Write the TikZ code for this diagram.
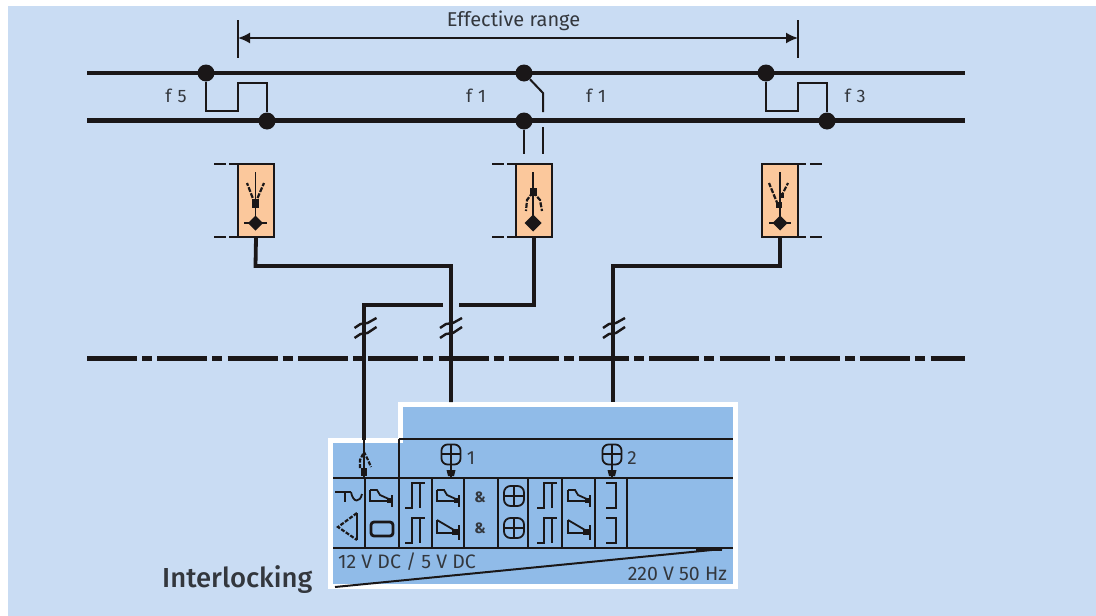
\documentclass[tikz,border=0pt]{standalone}
\usepackage{fontspec}
\setmainfont{Fira Sans}
\newfontfamily\titlefont{Fira Sans Medium}
\usetikzlibrary{arrows.meta}
\definecolor{panelbg}{HTML}{C9DCF3}
\definecolor{platebg}{HTML}{90BBE8}
\definecolor{boxbg}{HTML}{FBC89C}
\definecolor{inkdark}{HTML}{1A1718}
\definecolor{inktext}{HTML}{33373D}
\tikzset{
  railline/.style={line width=4.6pt,draw=inkdark},
  powerwire/.style={line width=3.8pt,draw=inkdark},
  thinwire/.style={line width=2pt,draw=inkdark},
  symline/.style={line width=1.8pt,draw=inkdark},
  jdot/.style={circle,fill=inkdark,inner sep=0pt,minimum size=17pt},
  relaybox/.style={rectangle,draw=inkdark,line width=2pt,fill=boxbg,inner sep=0pt,minimum width=36pt,minimum height=73pt},
  label/.style={text=inktext,inner sep=0pt,font=\fontsize{18}{18}\selectfont},
  relaytop/.pic={
    \draw [symline] (0,0) -- (7,0) -- (10,5) -- (21,10);
    \draw [symline] (0,0) -- (0,11) -- (22,11);
    \draw [symline] (22,5) -- (22,17);
    \fill [inkdark] (17,8) rectangle (22,12.5);
  },
  relaybot/.pic={
    \draw [symline] (0,0) -- (17,10);
    \draw [symline] (0,0) -- (0,13) -- (22,13);
    \draw [symline] (22,5) -- (22,20);
    \fill [inkdark] (15,9) rectangle (22,14.5);
  },
  pulsesym/.pic={
    \draw [symline] (0,25) -- (7,25) -- (7,0) -- (20,0);
    \draw [symline] (15,0) -- (15,25);
  },
  bracketsym/.pic={
    \draw [symline] (0,0) -- (10,0) -- (10,25) -- (0,25);
  },
  crosssym/.pic={
    \draw [symline,rounded corners=6.5pt] (-10,-10) rectangle (10,10);
    \draw [symline] (-10,0) -- (10,0);
    \draw [symline] (0,-10) -- (0,10);
  },
  breaksym/.pic={
    \draw [thinwire,line width=2.4pt] (-9,11) -- (-3,7) -- (4,6) -- (13,0);
    \draw [thinwire,line width=2.4pt] (-9,1) -- (-3,-3) -- (4,-4) -- (13,-9);
  },
}
\begin{document}
\begin{tikzpicture}[x=1pt,y=-1pt]
\useasboundingbox (0,0) rectangle (1096,616);
\fill [white] (0,0) rectangle (1096,616);
\fill [panelbg] (8,6) rectangle (1096,616);

% range above the track
\coordinate (rangea) at (238,38);
\coordinate (rangeb) at (798,38);
\draw [thinwire] (238,20) -- (238,58);
\draw [thinwire] (798,20) -- (798,58);
\draw [line width=1.8pt,draw=inkdark,{Latex[length=12pt,width=11pt]}-{Latex[length=12pt,width=11pt]}] (rangea) -- (rangeb);
\node [label,font=\fontsize{20}{20}\selectfont] (rangetext) at (513.5,21) {Effective range};

% rails
\coordinate (raila) at (87,73);
\coordinate (railb) at (965,73);
\coordinate (railc) at (87,120.5);
\coordinate (raild) at (965,120.5);
\draw [railline] (raila) -- (railb);
\draw [railline] (railc) -- (raild);

\node [jdot] (f5up) at (206,73) {};
\node [jdot] (f5low) at (267,121) {};
\node [jdot] (f1up) at (524,73) {};
\node [jdot] (f1low) at (524,121) {};
\node [jdot] (f3up) at (766,73) {};
\node [jdot] (f3low) at (827,121) {};

\draw [thinwire] (f5up) -- (206,111) -- (238,111) -- (238,83) -- (267,83) -- (f5low);
\draw [thinwire] (f3up) -- (766,111) -- (798,111) -- (798,83) -- (827,83) -- (f3low);
\draw [thinwire] (f1up) -- (543,93) -- (543,112);

\node [label] (f5text) at (176,95.5) {f\,\,5};
\node [label] (f1texta) at (476,95.5) {f\,\,1};
\node [label] (f1textb) at (596,95.5) {f\,\,1};
\node [label] (f3text) at (855,95.5) {f\,\,3};

% trackside units
\node [relaybox] (unita) at (256,200.5) {};
\node [relaybox] (unitb) at (534,200.5) {};
\node [relaybox] (unitc) at (780,200.5) {};

\draw [line width=2.8pt,draw=inkdark] (f1low) -- (524,154);
\draw [thinwire] (543,127) -- (543,154);

\foreach \yline in {164,237} {
  \draw [thinwire] (214,\yline) -- (226,\yline);
  \draw [thinwire] (229,\yline) -- (238,\yline);
  \draw [thinwire] (492,\yline) -- (504,\yline);
  \draw [thinwire] (507,\yline) -- (516,\yline);
  \draw [thinwire] (798,\yline) -- (806,\yline);
  \draw [thinwire] (810,\yline) -- (822,\yline);
}

% unit symbols
\draw [symline] (255.5,172) -- (255.5,224);
\draw [symline,dashed,dash pattern=on 5pt off 1.5pt,line width=2.2pt] (255,204) -- (247,183);
\draw [symline,dashed,dash pattern=on 5pt off 1.5pt,line width=2.2pt] (255,204) -- (264,183);
\fill [inkdark] (252,199) rectangle (258.5,208);
\draw [symline] (244,223) -- (267,223);
\fill [inkdark] (255.5,215.5) -- (263,223) -- (255.5,230.5) -- (248,223) -- cycle;

\draw [symline] (533,172) -- (533,224);
\draw [symline,dashed,dash pattern=on 5pt off 1.5pt,line width=2.2pt] (533,192) -- (527,200) -- (526,211);
\draw [symline,dashed,dash pattern=on 5pt off 1.5pt,line width=2.2pt] (533,192) -- (540,200) -- (542,211);
\fill [inkdark] (529.5,188) rectangle (537,196);
\fill [inkdark] (533,214.5) -- (541.5,223) -- (533,231.5) -- (524.5,223) -- cycle;

\draw [symline] (780,172) -- (780,224);
\draw [symline,dashed,dash pattern=on 5pt off 1.5pt,line width=2.2pt] (778,205) -- (769,183);
\draw [symline,dashed,dash pattern=on 5pt off 1.5pt,line width=2.2pt] (781,197) -- (788,183);
\fill [inkdark] (776,202) rectangle (781.5,208);
\fill [inkdark] (779,193) rectangle (783.5,198);
\draw [symline] (769,223) -- (791,223);
\fill [inkdark] (780,215.5) -- (787.5,223) -- (780,230.5) -- (772.5,223) -- cycle;

% dash-dot boundary
\coordinate (bounda) at (87,358.5);
\coordinate (boundb) at (965,358.5);
\draw [railline,dash pattern=on 50pt off 5pt on 10pt off 5.3pt] (bounda) -- (boundb);

% interlocking plate
\draw [line width=5pt,draw=white,fill=platebg,miter limit=4]
  (330.5,586) -- (330.5,440) -- (400,440) -- (400,404.5) -- (735.5,404.5) -- (735.5,586) -- cycle;
\coordinate (platea) at (451,402);
\coordinate (plateb) at (613,402);
\coordinate (platec) at (364,478);

% cables
\draw [powerwire] (unita.south) -- (255.5,266) -- (451,266) -- (platea);
\draw [powerwire] (unitc.south) -- (780,266) -- (613,266) -- (plateb);
\draw [powerwire] (unitb.south) -- (534,305) -- (459,305);
\draw [powerwire] (443,305) -- (364,305) -- (364,440);
\draw [line width=2.4pt,draw=inkdark] (364,440) -- (platec);
\path (363.5,327) pic {breaksym};
\path (449,327) pic {breaksym};
\path (612,327) pic {breaksym};

% plate rules
\draw [line width=2.2pt,draw=inkdark] (399,439) -- (733,439);
\draw [line width=2.2pt,draw=inkdark] (399,439) -- (399,478);
\draw [line width=2.2pt,draw=inkdark] (333,478) -- (733,478);
\draw [line width=2.2pt,draw=inkdark] (333,548) -- (733,548);
\foreach \xcell in {365,399,431.7,464.3,497.7,528.3,561.7,595,627.3} {
  \draw [line width=2pt,draw=inkdark] (\xcell,478) -- (\xcell,548);
}
\draw [line width=2pt,draw=inkdark] (335,587) -- (722,549);
\fill [inkdark] (696,547.5) rectangle (722,551);

% plate feed symbols
\draw [symline,dashed,dash pattern=on 4pt off 1.5pt,line width=2.2pt] (360,468) -- (360,460) -- (364,452) -- (368,460) -- (371,467);
\fill [inkdark] (361,468) rectangle (367,476);
\foreach \xfeed/\tfeed in {451/1,612/2} {
  \draw [symline,rounded corners=6pt] (\xfeed-9.5,444.5) rectangle (\xfeed+9.5,464.5);
  \draw [symline] (\xfeed-9.5,454) -- (\xfeed+9.5,454);
  \draw [symline] (\xfeed,444.5) -- (\xfeed,478);
  \fill [inkdark] (\xfeed-4.5,470) -- (\xfeed+4.5,470) -- (\xfeed+3,476) -- (\xfeed-3,476) -- cycle;
  \node [label,font=\fontsize{19}{19}\selectfont] (feedtext\tfeed) at (\xfeed+20,458) {\tfeed};
}

% first cell
\draw [symline] (335,492) -- (351,492);
\draw [symline] (345,492) -- (345,502);
\draw [symline] (351,492) .. controls (353,503) and (360,503) .. (362,494);
\draw [symline,dashed,dash pattern=on 4pt off 1.5pt,line width=2.2pt] (357,513) -- (338,527) -- (357,540);
\draw [symline] (357,513) -- (357,540);

% second cell
\path (370,490) pic {relaytop};
\draw [line width=2.8pt,draw=inkdark,rounded corners=3pt] (371,522) rectangle (393,536);

% repeated cells
\foreach \xpulse in {405,537} {
  \path (\xpulse,483) pic {pulsesym};
  \path (\xpulse,518) pic {pulsesym};
}
\foreach \xrelay in {437,568} {
  \path (\xrelay,490) pic {relaytop};
  \path (\xrelay,520) pic {relaybot};
}
\path (606,483) pic {bracketsym};
\path (606,518) pic {bracketsym};
\path (514,496) pic {crosssym};
\path (514,528) pic {crosssym};
\node [label,font=\fontsize{15}{15}\selectfont\bfseries] (andtop) at (480,497) {\&};
\node [label,font=\fontsize{15}{15}\selectfont\bfseries] (andbot) at (480,528) {\&};

% plate and title texts
\node [label,anchor=west,font=\fontsize{19.5}{19.5}\selectfont] (lowvolt) at (338,562) {12 V DC / 5 V DC};
\node [label,anchor=east,font=\fontsize{19.5}{19.5}\selectfont] (highvolt) at (727,574) {220 V 50 Hz};
\node [label,anchor=west,font=\fontsize{27.5}{27.5}\selectfont\titlefont] (titletext) at (162,580) {Interlocking};

\end{tikzpicture}
\end{document}
